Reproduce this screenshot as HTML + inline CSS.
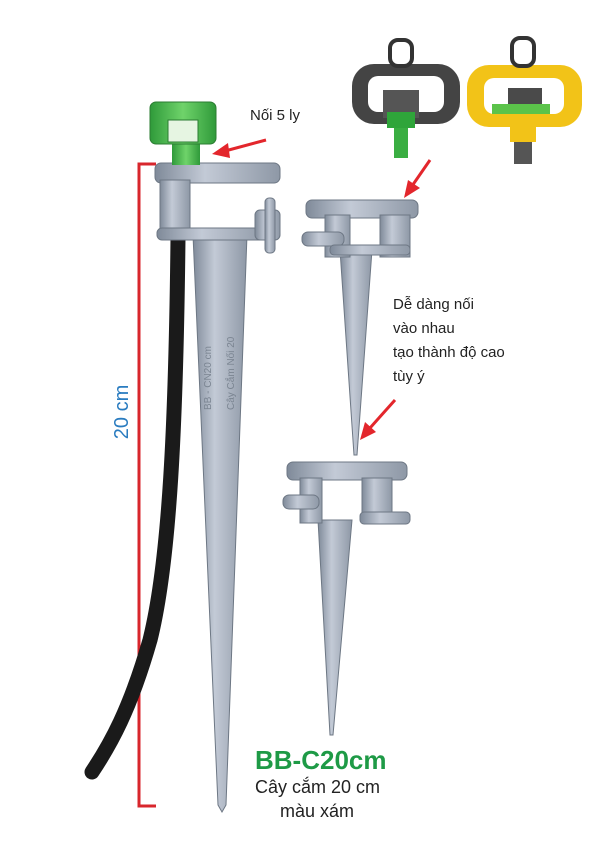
<!DOCTYPE html>
<html><head><meta charset="utf-8"><style>
body{margin:0;background:#fff;width:603px;height:855px;overflow:hidden}
svg{display:block}
</style></head><body>
<svg width="603" height="855" viewBox="0 0 603 855" xmlns="http://www.w3.org/2000/svg">
<defs>
<linearGradient id="g" x1="0" x2="1"><stop offset="0" stop-color="#7f8a99"/><stop offset="0.4" stop-color="#c3cad6"/><stop offset="1" stop-color="#8e98a6"/></linearGradient>
<linearGradient id="gr" x1="0" x2="1"><stop offset="0" stop-color="#2f9a3a"/><stop offset="0.5" stop-color="#6fd36a"/><stop offset="1" stop-color="#2f9a3a"/></linearGradient>
</defs>
<path d="M156 164 H139 V806 H156" fill="none" stroke="#d8262c" stroke-width="3"/>
<text x="128" y="412" transform="rotate(-90 128 412)" text-anchor="middle" font-family="Liberation Sans, sans-serif" font-size="20" fill="#2a7cc0">20 cm</text>
<path d="M178 238 C176 420 170 560 150 640 C130 710 110 745 92 772" fill="none" stroke="#1a1a1a" stroke-width="15" stroke-linecap="round"/>
<path d="M193 235 L247 235 L226 805 L222 812 L218 805 Z" fill="url(#g)" stroke="#6d7784" stroke-width="1"/>
<rect x="155" y="163" width="125" height="20" rx="6" fill="url(#g)" stroke="#6d7784"/>
<rect x="160" y="180" width="30" height="55" fill="url(#g)" stroke="#6d7784"/>
<rect x="157" y="228" width="112" height="12" rx="5" fill="url(#g)" stroke="#6d7784"/>
<rect x="255" y="210" width="25" height="30" rx="5" fill="url(#g)" stroke="#6d7784"/>
<rect x="265" y="198" width="10" height="55" rx="4" fill="url(#g)" stroke="#6d7784"/>
<text x="211" y="410" transform="rotate(-90 211 410)" font-family="Liberation Sans, sans-serif" font-size="10" fill="#7b8592">BB - CN20 cm</text>
<text x="234" y="410" transform="rotate(-90 234 410)" font-family="Liberation Sans, sans-serif" font-size="10" fill="#7b8592">Cây Cắm Nối 20</text>
<rect x="172" y="140" width="28" height="25" fill="url(#gr)"/>
<rect x="150" y="102" width="66" height="42" rx="6" fill="url(#gr)" stroke="#2b7c32"/>
<rect x="168" y="120" width="30" height="22" fill="#e6f5e2" stroke="#2b7c32"/>
<text x="250" y="120" font-family="Liberation Sans, sans-serif" font-size="15" fill="#222">Nối 5 ly</text>
<path d="M266 140 L225 151" stroke="#e3262c" stroke-width="3"/><path d="M212 154 L228 143 L230 158 Z" fill="#e3262c"/>
<rect x="352" y="64" width="108" height="60" rx="22" fill="#444" />
<rect x="368" y="76" width="76" height="36" rx="10" fill="#fff"/>
<rect x="390" y="40" width="22" height="26" rx="8" fill="none" stroke="#333" stroke-width="4"/>
<rect x="383" y="90" width="36" height="28" fill="#555"/>
<rect x="387" y="112" width="28" height="16" fill="#2fa53a"/>
<rect x="394" y="128" width="14" height="30" fill="#3aae42"/>
<rect x="467" y="65" width="115" height="62" rx="22" fill="#f2c318"/>
<rect x="484" y="78" width="80" height="36" rx="10" fill="#fff"/>
<rect x="512" y="38" width="22" height="28" rx="8" fill="none" stroke="#333" stroke-width="4"/>
<rect x="508" y="88" width="34" height="20" fill="#4a4a4a"/>
<rect x="492" y="104" width="58" height="10" fill="#5bc34a"/>
<rect x="510" y="114" width="26" height="28" fill="#f2c318"/>
<rect x="514" y="142" width="18" height="22" fill="#555"/>
<path d="M430 160 L412 186" stroke="#e3262c" stroke-width="3"/><path d="M404 198 L408 180 L420 188 Z" fill="#e3262c"/>
<path d="M340 250 L372 250 L357 455 L354 455 Z" fill="url(#g)" stroke="#6d7784"/>
<rect x="306" y="200" width="112" height="18" rx="6" fill="url(#g)" stroke="#6d7784"/>
<rect x="325" y="215" width="25" height="42" fill="url(#g)" stroke="#6d7784"/>
<rect x="380" y="215" width="30" height="42" fill="url(#g)" stroke="#6d7784"/>
<rect x="302" y="232" width="42" height="14" rx="6" fill="url(#g)" stroke="#6d7784"/>
<rect x="330" y="245" width="80" height="10" rx="4" fill="url(#g)" stroke="#6d7784"/>
<text x="393" y="309" font-family="Liberation Sans, sans-serif" font-size="15" fill="#222">Dễ dàng nối</text>
<text x="393" y="333" font-family="Liberation Sans, sans-serif" font-size="15" fill="#222">vào nhau</text>
<text x="393" y="357" font-family="Liberation Sans, sans-serif" font-size="15" fill="#222">tạo thành độ cao</text>
<text x="393" y="381" font-family="Liberation Sans, sans-serif" font-size="15" fill="#222">tùy ý</text>
<path d="M395 400 L370 428" stroke="#e3262c" stroke-width="3"/><path d="M360 440 L365 422 L376 432 Z" fill="#e3262c"/>
<path d="M318 520 L352 520 L333 735 L330 735 Z" fill="url(#g)" stroke="#6d7784"/>
<rect x="287" y="462" width="120" height="18" rx="6" fill="url(#g)" stroke="#6d7784"/>
<rect x="300" y="478" width="22" height="45" fill="url(#g)" stroke="#6d7784"/>
<rect x="362" y="478" width="30" height="45" fill="url(#g)" stroke="#6d7784"/>
<rect x="283" y="495" width="36" height="14" rx="6" fill="url(#g)" stroke="#6d7784"/>
<rect x="360" y="512" width="50" height="12" rx="4" fill="url(#g)" stroke="#6d7784"/>
<text x="255" y="769" font-family="Liberation Sans, sans-serif" font-size="26" font-weight="bold" fill="#1e9a46">BB-C20cm</text>
<text x="255" y="793" font-family="Liberation Sans, sans-serif" font-size="18" fill="#222">Cây cắm 20 cm</text>
<text x="280" y="817" font-family="Liberation Sans, sans-serif" font-size="18" fill="#222">màu xám</text>
</svg>
</body></html>
